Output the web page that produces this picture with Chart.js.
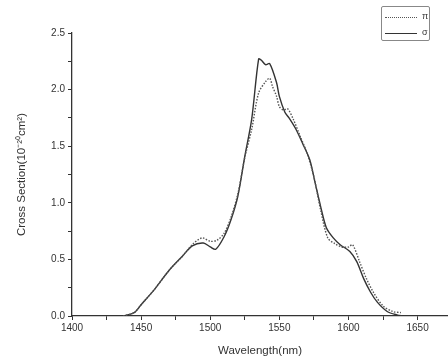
<!DOCTYPE html>
<html>
<head>
<meta charset="utf-8">
<script src="https://cdn.jsdelivr.net/npm/chart.js@4.4.1/dist/chart.umd.min.js"></script>
<style>
  html, body { margin: 0; padding: 0; background: #fff; }
  #wrap { position: relative; width: 448px; height: 362px; }
  #legend {
    position: absolute; left: 381px; top: 6px; width: 49px; height: 35px;
    border: 1px solid #888; border-radius: 2px; box-sizing: border-box;
    font: 9px "Liberation Sans", Arial, sans-serif; color: #333;
  }
  .row { position: absolute; left: 3px; height: 10px; }
  .row .ln { position: absolute; left: 0; top: 5px; width: 32px; }
  .row span { position: absolute; left: 37px; top: -1px; }
</style>
</head>
<body>
<div id="wrap">
  <canvas id="c" width="448" height="362"></canvas>
  <div id="legend">
    <div class="row" style="top:5px"><div class="ln" style="border-top:1px dotted #555"></div><span>π</span></div>
    <div class="row" style="top:21px"><div class="ln" style="border-top:1px solid #333"></div><span>σ</span></div>
  </div>
</div>
<script>
// Données (nm, 10^-20 cm^2)
const piWave = [1437, 1445, 1450, 1460, 1470, 1480, 1487, 1494, 1500, 1505, 1510, 1515, 1520, 1525, 1530, 1535, 1540, 1543, 1545, 1548, 1550, 1553, 1556, 1560, 1565, 1570, 1575, 1580, 1585, 1590, 1595, 1600, 1603, 1608, 1613, 1618, 1625, 1632, 1638];
const piValues = [0, 0.03, 0.10, 0.24, 0.40, 0.53, 0.63, 0.69, 0.66, 0.67, 0.73, 0.87, 1.08, 1.40, 1.65, 1.97, 2.07, 2.10, 2.03, 1.94, 1.85, 1.82, 1.83, 1.74, 1.59, 1.44, 1.23, 0.93, 0.69, 0.64, 0.61, 0.61, 0.63, 0.48, 0.33, 0.21, 0.09, 0.04, 0.03];

const sigmaWave = [1437, 1445, 1450, 1460, 1470, 1480, 1487, 1495, 1500, 1504, 1510, 1515, 1520, 1525, 1530, 1535, 1537, 1540, 1543, 1548, 1550, 1554, 1557, 1562, 1567, 1572, 1576, 1580, 1584, 1589, 1594, 1601, 1606, 1611, 1616, 1621, 1628, 1635, 1640];
const sigmaValues = [0, 0.03, 0.10, 0.24, 0.40, 0.53, 0.62, 0.645, 0.61, 0.59, 0.70, 0.85, 1.06, 1.41, 1.74, 2.27, 2.26, 2.22, 2.23, 2.06, 1.94, 1.80, 1.75, 1.65, 1.52, 1.38, 1.17, 0.96, 0.78, 0.69, 0.63, 0.57, 0.48, 0.33, 0.21, 0.12, 0.04, 0.01, 0];

const xMajor = [1400, 1450, 1500, 1550, 1600, 1650];

const toPoints = (xs, ys) => xs.map((x, i) => ({ x: x, y: ys[i] }));
const axisColor = '#333';
const font = { family: '"Liberation Sans", Arial, sans-serif', size: 10 };
const titleFont = { family: font.family, size: 11.5 };

new Chart(document.getElementById('c'), {
  type: 'line',
  data: {
    datasets: [
      { label: 'π', data: toPoints(piWave, piValues), borderColor: '#555', borderWidth: 1.4, borderDash: [1.5, 1.5], pointRadius: 0, tension: 0.3 },
      { label: 'σ', data: toPoints(sigmaWave, sigmaValues), borderColor: '#333', borderWidth: 1.4, pointRadius: 0, tension: 0.3 }
    ]
  },
  options: {
    responsive: false,
    animation: false,
    layout: { padding: { top: 33, right: 0, bottom: 0, left: 0 } },
    plugins: { legend: { display: false }, tooltip: { enabled: false } },
    scales: {
      x: {
        type: 'linear', min: 1400, max: 1672,
        ticks: {
          stepSize: 25, includeBounds: false, autoSkip: false, maxRotation: 0,
          color: axisColor, font: font, padding: 2,
          callback: v => xMajor.includes(v) ? String(v) : ''
        },
        grid: { drawOnChartArea: false, tickLength: 4, color: axisColor },
        border: { color: axisColor, width: 1.3 },
        title: { display: true, text: 'Wavelength(nm)', color: axisColor, font: titleFont, padding: { top: 4, bottom: 4 } },
        afterFit: s => { s.height = 46; }
      },
      y: {
        min: 0, max: 2.5,
        ticks: {
          stepSize: 0.25, autoSkip: false, color: axisColor, font: font, padding: 3,
          callback: v => (Math.round(v * 100) % 50 === 0) ? v.toFixed(1) : ''
        },
        grid: { drawOnChartArea: false, tickLength: 4, color: axisColor },
        border: { color: axisColor, width: 1.3 },
        title: { display: true, text: 'Cross Section(10⁻²⁰cm²)', color: axisColor, font: titleFont, padding: { top: 15, bottom: 0 } },
        afterFit: s => { s.width = 72; }
      }
    }
  }
});
</script>
</body>
</html>
